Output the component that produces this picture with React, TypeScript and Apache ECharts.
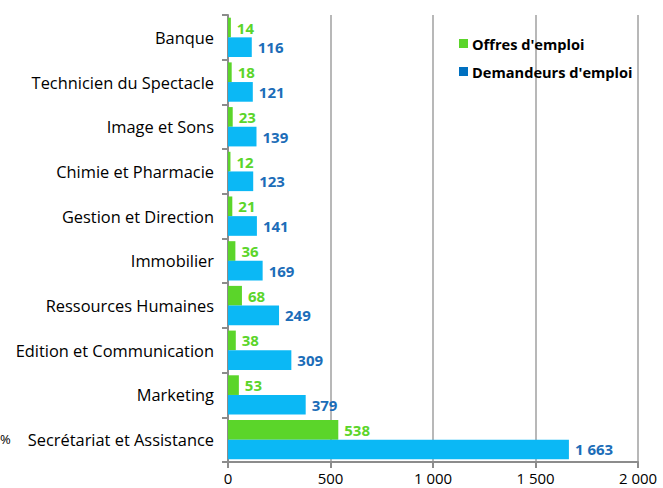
import React, { useEffect, useRef } from "react";
import * as echarts from "echarts";

const categories = [
  "Banque",
  "Technicien du Spectacle",
  "Image et Sons",
  "Chimie et Pharmacie",
  "Gestion et Direction",
  "Immobilier",
  "Ressources Humaines",
  "Edition et Communication",
  "Marketing",
  "Secrétariat et Assistance",
];
const offres = [14, 18, 23, 12, 21, 36, 68, 38, 53, 538];
const demandeurs = [116, 121, 139, 123, 141, 169, 249, 309, 379, 1663];
const seriesNames = ["Offres d'emploi", "Demandeurs d'emploi"];

const fmt = (v: number) => String(v).replace(/\B(?=(\d{3})+(?!\d))/g, " ");

export default function App() {
  const ref = useRef<HTMLDivElement>(null);
  useEffect(() => {
    const chart = echarts.init(ref.current!, undefined, { renderer: "svg" });
    const font = "'Open Sans', sans-serif";
    chart.setOption({
      animation: false,
      backgroundColor: "#ffffff",
      textStyle: { fontFamily: font },
      grid: { left: 228, right: 25, top: 15, bottom: 26 },
      legend: {
        orient: "vertical",
        left: 454,
        top: 31,
        itemGap: 13,
        itemWidth: 9,
        itemHeight: 9,
        icon: "rect",
        textStyle: { fontFamily: font, fontWeight: "bold", fontSize: 14.6, color: "#000", padding: [0, 0, 0, -1] },
        data: [
          { name: seriesNames[0], itemStyle: { color: "#5BD52A" } },
          { name: seriesNames[1], itemStyle: { color: "#0070C0" } },
        ],
      },
      xAxis: {
        type: "value",
        min: 0,
        max: 2000,
        interval: 500,
        axisLine: { show: true, lineStyle: { color: "#8c8c8c", width: 2 } },
        axisTick: { show: true, length: 6, lineStyle: { color: "#8c8c8c", width: 2 } },
        splitLine: { show: true, lineStyle: { color: "#a0a0a0", width: 1.5 } },
        axisLabel: {
          fontSize: 15,
          lineHeight: 16,
          color: "#000",
          margin: 8,
          formatter: (v: number) => fmt(v),
        },
      },
      yAxis: {
        type: "category",
        inverse: true,
        data: categories,
        axisLine: { show: true, lineStyle: { color: "#8c8c8c", width: 2 } },
        axisTick: { show: true, length: 6, lineStyle: { color: "#8c8c8c", width: 2 } },
        axisLabel: { fontSize: 16.4, color: "#000", margin: 14 },
      },
      series: [
        {
          name: seriesNames[0],
          type: "bar",
          data: offres,
          barGap: "0%",
          barCategoryGap: "12%",
          itemStyle: { color: "#5BD52A" },
          label: {
            show: true,
            position: "right",
            distance: 6,
            color: "#5BD52A",
            fontWeight: "bold",
            fontSize: 15,
            fontFamily: font,
            formatter: (p: any) => fmt(p.value),
          },
        },
        {
          name: seriesNames[1],
          type: "bar",
          data: demandeurs,
          barGap: "0%",
          barCategoryGap: "12%",
          itemStyle: { color: "#0BB8F5" },
          label: {
            show: true,
            position: "right",
            distance: 6,
            color: "#1C6DB8",
            fontWeight: "bold",
            fontSize: 15,
            fontFamily: font,
            formatter: (p: any) => fmt(p.value),
          },
        },
      ],
      graphic: [
        {
          type: "text",
          left: 0,
          top: 432,
          style: { text: "%", fontSize: 13, fill: "#000", fontFamily: font },
        },
      ],
    });
    return () => chart.dispose();
  }, []);
  return (
    <div
      ref={ref}
      style={{ position: "fixed", left: 0, top: 0, width: 663, height: 488 }}
    />
  );
}
